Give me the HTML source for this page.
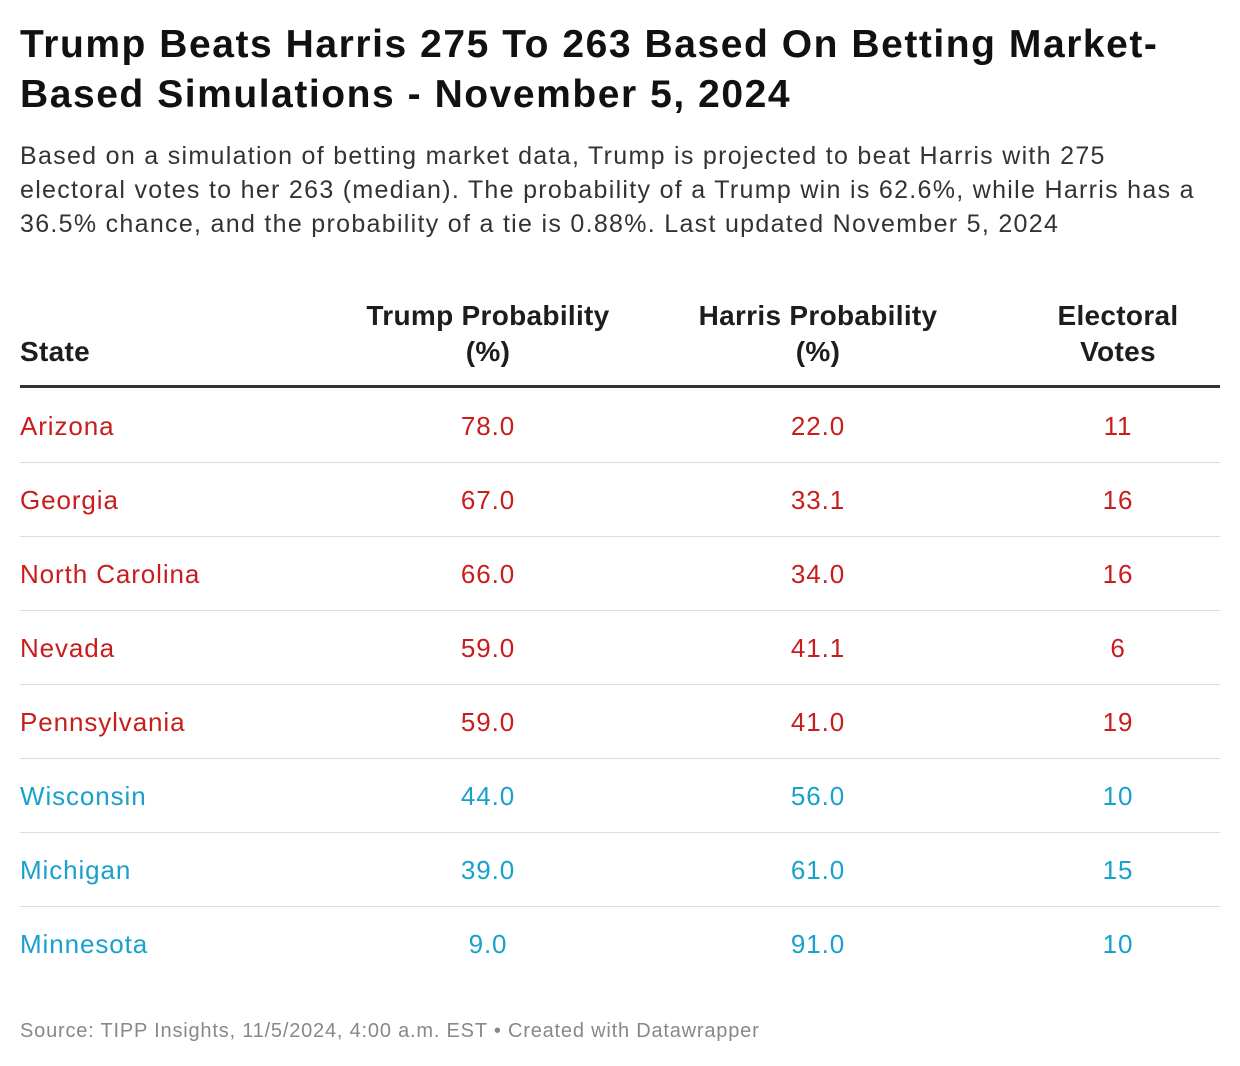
<!DOCTYPE html>
<html><head><meta charset="utf-8">
<style>
body{margin:0;width:1240px;height:1066px;background:#fff;font-family:"Liberation Sans",Arial,sans-serif;color:#1d1d1d;position:relative;overflow:hidden}
.abs{position:absolute}
#title{left:20px;top:20px;width:1220px;font-size:39px;font-weight:bold;line-height:50px;color:#111;letter-spacing:1.55px;white-space:nowrap}
#sub{left:20px;top:139px;width:1220px;font-size:25px;line-height:34px;color:#333;letter-spacing:1.3px;white-space:nowrap}
.hdr{position:absolute;font-size:28px;font-weight:bold;line-height:36px;text-align:center;color:#1d1d1d;letter-spacing:0.3px}
#rule{left:20px;top:385px;width:1200px;height:3px;background:#333}
.cell{position:absolute;font-size:26px;line-height:30px;letter-spacing:0.9px}
.sep{position:absolute;left:20px;width:1200px;height:1px;background:#ddd}
#foot{left:20px;top:1020px;font-size:20px;color:#888;letter-spacing:0.8px}
</style></head><body>
<div id="title" class="abs">Trump Beats Harris 275 To 263 Based On Betting Market-<br>Based Simulations - November 5, 2024</div>
<div id="sub" class="abs">Based on a simulation of betting market data, Trump is projected to beat Harris with 275<br>electoral votes to her 263 (median). The probability of a Trump win is 62.6%, while Harris has a<br>36.5% chance, and the probability of a tie is 0.88%. Last updated November 5, 2024</div>
<div class="hdr" style="left:20px;top:334px;text-align:left">State</div>
<div class="hdr" style="left:338px;top:298px;width:300px">Trump Probability<br>(%)</div>
<div class="hdr" style="left:668px;top:298px;width:300px">Harris Probability<br>(%)</div>
<div class="hdr" style="left:1018px;top:298px;width:200px">Electoral<br>Votes</div>
<div id="rule" class="abs"></div>
<div id="rows"></div>
<div id="foot" class="abs">Source: TIPP Insights, 11/5/2024, 4:00 a.m. EST • Created with Datawrapper</div>
<script>
const states=["Arizona","Georgia","North Carolina","Nevada","Pennsylvania","Wisconsin","Michigan","Minnesota"];
const trumpProb=[78.0,67.0,66.0,59.0,59.0,44.0,39.0,9.0];
const harrisProb=[22.0,33.1,34.0,41.1,41.0,56.0,61.0,91.0];
const electoralVotes=[11,16,16,6,19,10,15,10];
const rows=document.getElementById('rows');
states.forEach((s,i)=>{
  const y=389+i*74;
  const color=trumpProb[i]>harrisProb[i]?'#c71e1d':'#18a1cd';
  const cols=[[s,20,null,'state-name'],[trumpProb[i].toFixed(1),488,1,'trump-probability'],[harrisProb[i].toFixed(1),818,1,'harris-probability'],[String(electoralVotes[i]),1118,1,'electoral-votes']];
  cols.forEach(c=>{
    const d=document.createElement('div');
    d.className='cell';
    d.textContent=c[0];
    d.style.color=color;
    d.style.top=(y+22)+'px';
    if(c[2]){d.style.left=(c[1]-100)+'px';d.style.width='200px';d.style.textAlign='center';}
    else d.style.left=c[1]+'px';
    
    
    rows.appendChild(d);
  });
  if(i<states.length-1){
    const l=document.createElement('div');
    l.className='sep';
    l.style.top=(y+73)+'px';
    
    
    rows.appendChild(l);
  }
});
</script>
</body></html>
